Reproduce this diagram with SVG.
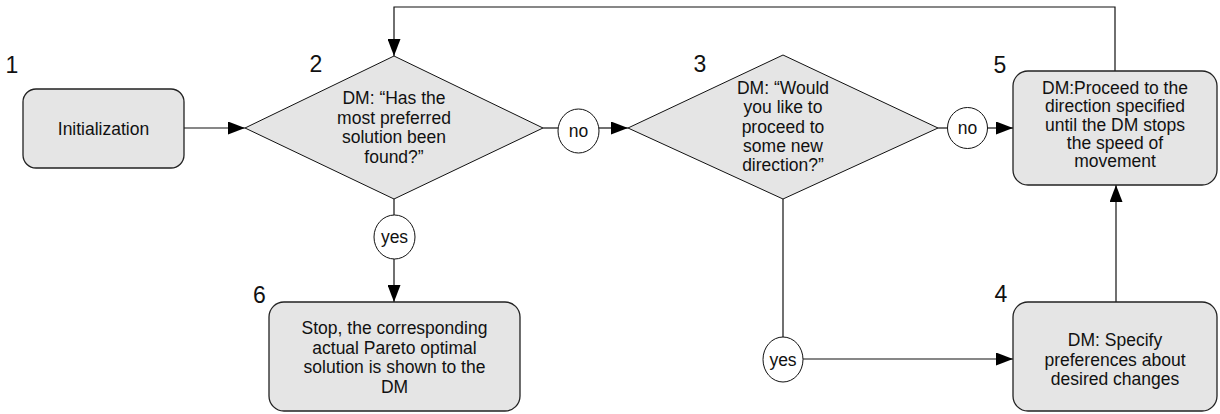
<svg xmlns="http://www.w3.org/2000/svg" width="1220" height="414" viewBox="0 0 1220 414">
<defs>
<style>
.box{fill:#e5e5e5;stroke:#222;stroke-width:1.3}
.dia{fill:#e5e5e5;stroke:#111;stroke-width:1}
.circ{fill:#fff;stroke:#111;stroke-width:1}
.t{font-family:"Liberation Sans",Arial,sans-serif;font-size:17.5px;fill:#111;text-anchor:middle}
.num{font-family:"Liberation Sans",Arial,sans-serif;font-size:23px;fill:#111;text-anchor:middle}
.ln{fill:none;stroke:#111;stroke-width:1.2}
</style>
<marker id="ah" viewBox="0 0 17 13" refX="17" refY="6.5" markerWidth="17" markerHeight="13" markerUnits="userSpaceOnUse" orient="auto">
<path d="M0,0 L17,6.5 L0,13 Z" fill="#000"/>
</marker>
</defs>
<rect width="1220" height="414" fill="#fff"/>
<g id="connectors">
<path class="ln" d="M184,128 H245" marker-end="url(#ah)"/>
<path class="ln" d="M543,128 H558"/>
<path class="ln" d="M599,128 H628" marker-end="url(#ah)"/>
<path class="ln" d="M938,128 H947"/>
<path class="ln" d="M987,128 H1013" marker-end="url(#ah)"/>
<path class="ln" d="M394,199 V215"/>
<path class="ln" d="M394,259 V302" marker-end="url(#ah)"/>
<path class="ln" d="M783,199 V337"/>
<path class="ln" d="M803,359 H1013" marker-end="url(#ah)"/>
<path class="ln" d="M1116,302 V185" marker-end="url(#ah)"/>
<path class="ln" d="M1115,71 V7 H394 V56" marker-end="url(#ah)"/>
</g>
<g id="n1">
<text class="num" x="12" y="73">1</text>
<rect class="box" x="23" y="89" width="161" height="79" rx="13"/>
<text class="t" x="103.5" y="135">Initialization</text>
</g>
<g id="n2">
<text class="num" x="316" y="72">2</text>
<polygon class="dia" points="394,56 543,128 394,199 245,128"/>
<text class="t" x="394" y="104">DM: “Has the</text>
<text class="t" x="394" y="123.5">most preferred</text>
<text class="t" x="394" y="143">solution been</text>
<text class="t" x="394" y="162.5">found?”</text>
</g>
<g id="no1">
<ellipse class="circ" cx="578.5" cy="131" rx="20.5" ry="22"/>
<text class="t" x="578.5" y="137">no</text>
</g>
<g id="n3">
<text class="num" x="700" y="72">3</text>
<polygon class="dia" points="783,55 938,128 783,199 628,128"/>
<text class="t" x="783" y="94">DM: “Would</text>
<text class="t" x="783" y="113.3">you like to</text>
<text class="t" x="783" y="132.6">proceed to</text>
<text class="t" x="783" y="151.9">some new</text>
<text class="t" x="783" y="171.2">direction?”</text>
</g>
<g id="no2">
<ellipse class="circ" cx="967.5" cy="128" rx="20" ry="20.5"/>
<text class="t" x="967.5" y="134">no</text>
</g>
<g id="n5">
<text class="num" x="1000" y="73">5</text>
<rect class="box" x="1013" y="71" width="204" height="114" rx="15"/>
<text class="t" x="1115" y="94">DM:Proceed to the</text>
<text class="t" x="1115" y="112.3">direction specified</text>
<text class="t" x="1115" y="130.6">until the DM stops</text>
<text class="t" x="1115" y="148.9">the speed of</text>
<text class="t" x="1115" y="167.2">movement</text>
</g>
<g id="yes1">
<ellipse class="circ" cx="394.5" cy="237" rx="20.5" ry="22"/>
<text class="t" x="394.5" y="243">yes</text>
</g>
<g id="n6">
<text class="num" x="259.5" y="303">6</text>
<rect class="box" x="269" y="302" width="251" height="109" rx="15"/>
<text class="t" x="394.5" y="334">Stop, the corresponding</text>
<text class="t" x="394.5" y="353.5">actual Pareto optimal</text>
<text class="t" x="394.5" y="373">solution is shown to the</text>
<text class="t" x="394.5" y="392.5">DM</text>
</g>
<g id="yes2">
<ellipse class="circ" cx="783" cy="359.5" rx="20" ry="22.5"/>
<text class="t" x="783" y="365.5">yes</text>
</g>
<g id="n4">
<text class="num" x="1001" y="302">4</text>
<rect class="box" x="1013" y="302" width="204" height="109" rx="15"/>
<text class="t" x="1115" y="346">DM: Specify</text>
<text class="t" x="1115" y="365.5">preferences about</text>
<text class="t" x="1115" y="385">desired changes</text>
</g>
</svg>
